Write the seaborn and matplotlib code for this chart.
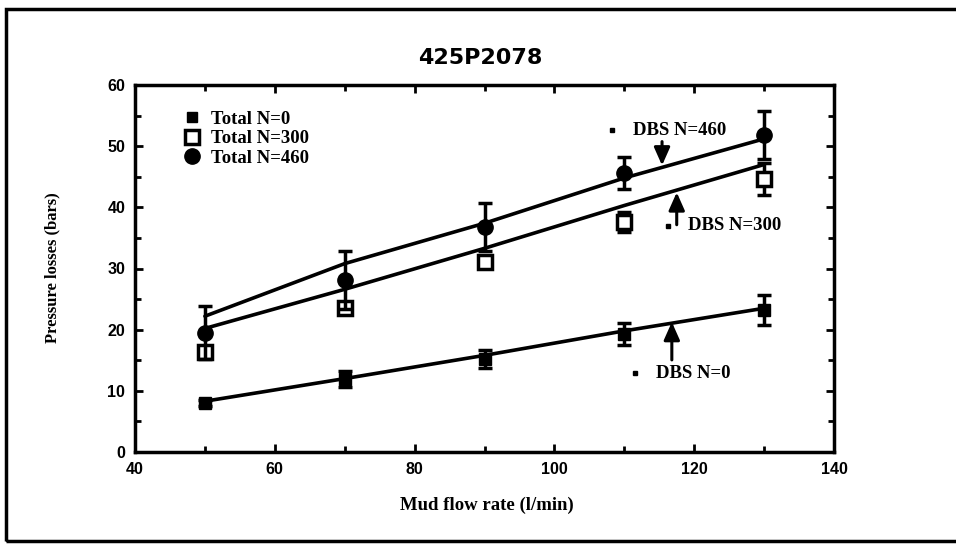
import matplotlib
matplotlib.use("Agg")
import matplotlib.pyplot as plt
import seaborn as sns
import pandas as pd
from matplotlib.patches import Rectangle
from matplotlib.lines import Line2D

flow = [50, 70, 90, 110, 130]
total_n0 = [8.0, 12.0, 15.2, 19.3, 23.2]
err_n0 = [0.5, 1.3, 1.5, 1.8, 2.4]
total_n300 = [16.4, 23.5, 31.0, 37.6, 44.6]
err_n300 = [0.0, 0.0, 0.0, 1.6, 2.6]
total_n460 = [19.5, 28.1, 36.8, 45.6, 51.8]
err_n460 = [4.3, 4.7, 3.9, 2.6, 3.9]
dbs_n0 = [8.3, 12.0, 15.8, 19.8, 23.5]
dbs_n300 = [20.2, 26.6, 33.3, 40.3, 47.0]
dbs_n460 = [22.2, 30.8, 37.4, 44.8, 51.2]

title = "425P2078"
xlabel = "Mud flow rate (l/min)"
ylabel = "Pressure losses (bars)"

sns.set_theme(style="ticks")
plt.rcParams['font.family'] = ['Liberation Serif', 'DejaVu Serif']
plt.rcParams['text.color'] = 'black'
plt.rcParams['axes.labelcolor'] = 'black'
plt.rcParams['xtick.color'] = 'black'
plt.rcParams['ytick.color'] = 'black'

fig = plt.figure(figsize=(9.56, 5.44), dpi=100)
ax = fig.add_axes([135/956, 1-452/544, (834-135)/956, (452-85)/544])

dbs = pd.DataFrame({
    "flow": flow * 3,
    "p": dbs_n0 + dbs_n300 + dbs_n460,
    "series": ["DBS N=0"] * 5 + ["DBS N=300"] * 5 + ["DBS N=460"] * 5,
})
sns.lineplot(data=dbs, x="flow", y="p", units="series", estimator=None,
             color="black", lw=2.6, ax=ax, legend=False)

ax.errorbar(flow, total_n0, yerr=err_n0, fmt="s", color="black", ms=8,
            ecolor="black", elinewidth=2.5, capsize=5, capthick=2.5, zorder=5)
ax.errorbar(flow, total_n300, yerr=err_n300, fmt="s", mfc="white", mec="black",
            mew=2.5, ms=10, ecolor="black", elinewidth=2.5, capsize=5,
            capthick=2.5, zorder=5)
ax.errorbar(flow, total_n460, yerr=err_n460, fmt="o", color="black", ms=11,
            ecolor="black", elinewidth=2.5, capsize=5, capthick=2.5, zorder=6)

ax.set_xlim(40, 140)
ax.set_ylim(0, 60)
ax.set_xticks([40, 60, 80, 100, 120, 140])
ax.set_xticks(range(40, 141, 10), minor=True)
ax.set_yticks(range(0, 61, 10))
ax.set_yticks(range(0, 61, 5), minor=True)
ax.tick_params(which="both", direction="in", top=True, right=True, width=2, colors="black")
ax.tick_params(which="major", length=6, labelsize=11.5, pad=7)
ax.tick_params(which="minor", length=4)
for lab in ax.get_xticklabels() + ax.get_yticklabels():
    lab.set_fontweight("bold")
    lab.set_family(["Liberation Sans", "DejaVu Sans"])
for s in ax.spines.values():
    s.set_linewidth(2.5)
    s.set_color("black")

ax.set_xlabel("")
ax.set_ylabel("")
fig.text(487/956, 1-505/544, xlabel, ha="center", va="center", fontsize=13.5, fontweight="bold")
fig.text(52/956, 1-268/544, ylabel, ha="center", va="center", rotation=90, fontsize=12,
         fontweight="bold")
fig.text(480/956, 1-58/544, title, ha="center", va="center", fontsize=16, fontweight="heavy",
         family=["DejaVu Sans"])

handles = [
    Line2D([], [], ls="none", marker="s", color="black", ms=7),
    Line2D([], [], ls="none", marker="s", mfc="white", mec="black", mew=2.5, ms=10),
    Line2D([], [], ls="none", marker="o", color="black", ms=11),
]
labels = ["Total N=0", "Total N=300", "Total N=460"]
leg = ax.legend(handles=handles, labels=labels, loc="upper left",
                bbox_to_anchor=(0.07, 0.93), frameon=False, fontsize=13.5,
                handlelength=0.9, handletextpad=0.55, labelspacing=0.12,
                borderaxespad=0, borderpad=0)
for t in leg.get_texts():
    t.set_fontweight("bold")

arrow = dict(arrowstyle="-|>,head_length=0.9,head_width=0.4", color="black", lw=2.2)
ax.annotate("", xy=(115.4, 46.4), xytext=(115.4, 51.2), arrowprops=arrow)
ax.annotate("", xy=(117.5, 42.9), xytext=(117.5, 36.7), arrowprops=arrow)
ax.annotate("", xy=(116.8, 21.7), xytext=(116.8, 14.6), arrowprops=arrow)

ann_font = dict(fontsize=13.5, fontweight="bold", va="center", ha="left")
ax.text(111.2, 52.6, "DBS N=460", **ann_font)
ax.text(119.1, 37.1, "DBS N=300", **ann_font)
ax.text(114.5, 12.9, "DBS N=0", **ann_font)
ax.plot([108.2, 116.2, 111.5], [52.6, 37.0, 12.9], "s", color="black", ms=2.5)

fig.patches.append(Rectangle((6/956, 1-541/544), 960/956, (541-9)/544,
                             transform=fig.transFigure, fill=False, lw=2.5,
                             edgecolor="black", clip_on=False))

fig.savefig("out.png", dpi=100)
